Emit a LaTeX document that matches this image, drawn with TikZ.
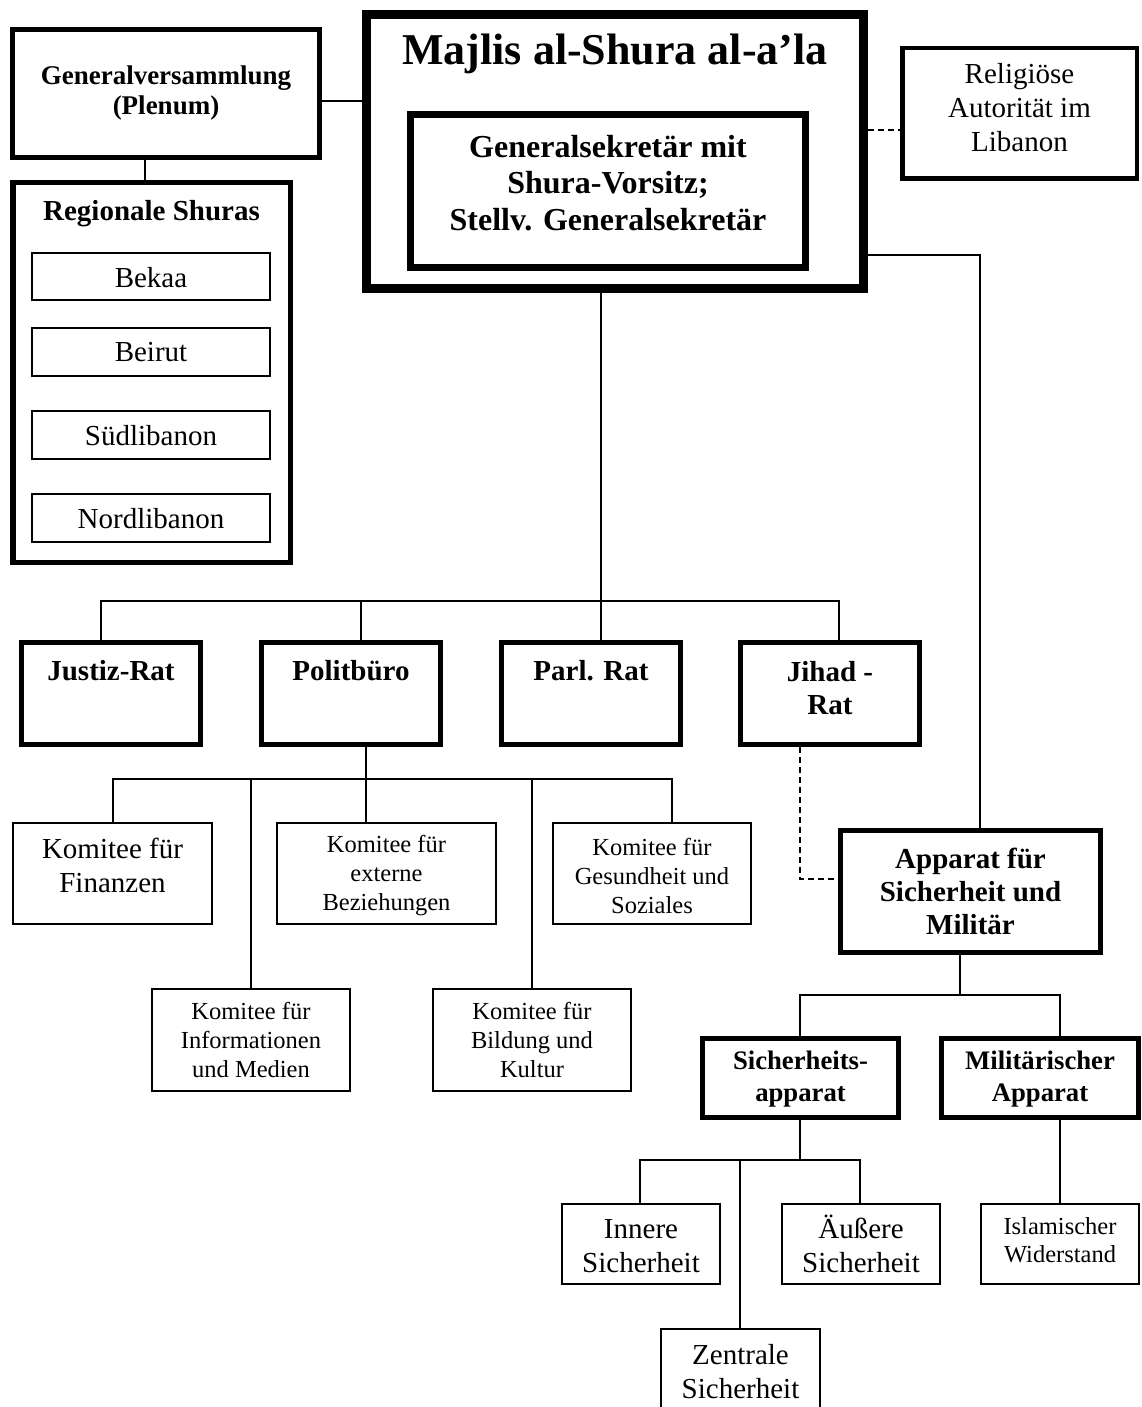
\documentclass[tikz,border=0pt]{standalone}
\usepackage{fontspec}
\setmainfont{Liberation Serif}
\newcommand\fsTitle{\fontsize{44}{50}\selectfont\bfseries}
\newcommand\fsGS{\fontsize{32}{36.5}\selectfont\bfseries}
\newcommand\fsGV{\fontsize{27}{30}\selectfont\bfseries}
\newcommand\fsB{\fontsize{29}{33}\selectfont\bfseries}
\newcommand\fsBs{\fontsize{26.7}{32}\selectfont\bfseries}
\newcommand\fsR{\fontsize{29}{34}\selectfont}
\newcommand\fsRs{\fontsize{24.5}{29}\selectfont}
\newcommand\fsRi{\fontsize{24.5}{28}\selectfont}
\begin{document}
\begin{tikzpicture}[x=1pt,y=-1pt,
  tk/.style={draw, line width=5pt, inner sep=0pt, align=center},
  tn/.style={draw, line width=1.6pt, inner sep=0pt, align=center},
  lbl/.style={anchor=center, inner sep=0pt, align=center},
  conn/.style={line width=1.6pt},
  dsh/.style={line width=1.6pt, dash pattern=on 6pt off 4pt}]
\useasboundingbox (0,0) rectangle (1141,1407);
% top row
\node[tk, minimum width=307, minimum height=128,
  label={[lbl, yshift=-66pt, font=\fsGV]north:Generalversammlung\\(Plenum)}] (gv) at (166,93.5) {};
\node[tk, line width=5.5pt, minimum width=277.5, minimum height=379.5,
  label={[lbl, yshift=-34pt, font=\fsB]north:Regionale Shuras}] (reg) at (151.5,372.5) {};
\node[tn, minimum width=238.4, minimum height=47.4,
  label={[lbl, yshift=-25.7pt, font=\fsR]north:Bekaa}] (bekaa) at (151,276.5) {};
\node[tn, minimum width=238.4, minimum height=48.4,
  label={[lbl, yshift=-25.2pt, font=\fsR]north:Beirut}] (beirut) at (151,352) {};
\node[tn, minimum width=238.4, minimum height=48.4,
  label={[lbl, yshift=-25.2pt, font=\fsR]north:Südlibanon}] (sued) at (151,435) {};
\node[tn, minimum width=238.4, minimum height=48.4,
  label={[lbl, yshift=-25.2pt, font=\fsR]north:Nordlibanon}] (nord) at (151,518) {};
\node[tk, line width=9pt, minimum width=497, minimum height=274,
  label={[lbl, yshift=-44pt, font=\fsTitle]north:Majlis al-Shura al-a’la}] (majlis) at (615,151.5) {};
\node[tk, line width=7pt, minimum width=395, minimum height=153,
  label={[lbl, yshift=-72pt, font=\fsGS]north:Generalsekretär mit\\Shura-Vorsitz;\\Stellv. Generalsekretär}] (gs) at (608,191) {};
\node[tk, line width=4.5pt, minimum width=234.5, minimum height=130.5,
  label={[lbl, yshift=-62pt, font=\fsR]north:Religiöse\\Autorität im\\Libanon}] (rel) at (1019.5,113.5) {};
% councils
\node[tk, minimum width=179, minimum height=102,
  label={[lbl, yshift=-30.5pt, font=\fsB]north:Justiz-Rat}] (justiz) at (111,693.5) {};
\node[tk, minimum width=179, minimum height=102,
  label={[lbl, yshift=-30.5pt, font=\fsB]north:Politbüro}] (polit) at (351,693.5) {};
\node[tk, minimum width=179, minimum height=102,
  label={[lbl, yshift=-30.5pt, font=\fsB]north:Parl. Rat}] (parl) at (591,693.5) {};
\node[tk, minimum width=179, minimum height=102,
  label={[lbl, yshift=-48pt, font=\fsB]north:Jihad -\\Rat}] (jihad) at (830,693.5) {};
% committees
\node[tn, minimum width=199.4, minimum height=101.4,
  label={[lbl, yshift=-43pt, font=\fsR]north:Komitee für\\Finanzen}] (fin) at (112.5,873.5) {};
\node[tn, minimum width=219.4, minimum height=101.4,
  label={[lbl, yshift=-53.7pt, font=\fsRs]north:Komitee für\\externe\\Beziehungen}] (ext) at (386.5,873.5) {};
\node[tn, minimum width=198.4, minimum height=101.4,
  label={[lbl, yshift=-53.7pt, font=\fsRs]north:Komitee für\\Gesundheit und\\Soziales}] (ges) at (652,873.5) {};
\node[tn, minimum width=198.4, minimum height=102.4, font=\fsRs] (inf) at (251,1040) {Komitee für\\Informationen\\und Medien};
\node[tn, minimum width=198.4, minimum height=102.4, font=\fsRs] (bild) at (532,1040) {Komitee für\\Bildung und\\Kultur};
% security
\node[tk, minimum width=260, minimum height=122, font=\fsB] (app) at (970.5,891.5) {Apparat für\\Sicherheit und\\Militär};
\node[tk, minimum width=196, minimum height=79,
  label={[lbl, yshift=-43.5pt, font=\fsBs]north:Sicherheits-\\apparat}] (sich) at (800.5,1078) {};
\node[tk, minimum width=197, minimum height=79,
  label={[lbl, yshift=-43.5pt, font=\fsBs]north:Militärischer\\Apparat}] (mil) at (1040,1078) {};
\node[tn, minimum width=158.4, minimum height=80.4,
  label={[lbl, yshift=-43.2pt, font=\fsR]north:Innere\\Sicherheit}] (inn) at (641,1244) {};
\node[tn, minimum width=158.4, minimum height=80.4,
  label={[lbl, yshift=-41.2pt, font=\fsR]north:Äußere\\Sicherheit}] (aeu) at (861,1244) {};
\node[tn, minimum width=158.4, minimum height=80.4,
  label={[lbl, yshift=-37.5pt, font=\fsRi]north:Islamischer\\Widerstand}] (isl) at (1060,1244) {};
\node[tn, minimum width=159.4, minimum height=80.4,
  label={[lbl, yshift=-43.2pt, font=\fsR]north:Zentrale\\Sicherheit}] (zen) at (740.5,1369) {};
% helper coordinates
\coordinate (h1) at (145,101);
\coordinate (h2) at (980,255);
\coordinate (h3) at (0,130);
\coordinate (bA) at (601,601);
\coordinate (b1) at (101,601);
\coordinate (b2) at (361,601);
\coordinate (b4) at (839,601);
\coordinate (pA) at (366,779);
\coordinate (p1) at (113,779);
\coordinate (p2) at (251,779);
\coordinate (p4) at (532,779);
\coordinate (p5) at (672,779);
\coordinate (jd) at (800,879);
\coordinate (aA) at (960,995);
\coordinate (a1) at (800,995);
\coordinate (a2) at (1060,995);
\coordinate (sA) at (800,1160);
\coordinate (s1) at (640,1160);
\coordinate (s2) at (740,1160);
\coordinate (s3) at (860,1160);
% connectors
\draw[conn] (gv.east |- h1) -- (majlis.west |- h1);
\draw[conn] (gv.south -| h1) -- (reg.north -| h1);
\draw[dsh] (majlis.east |- h3) -- (rel.west |- h3);
\draw[conn] (majlis.east |- h2) -- (h2) -- (app.north -| h2);
\draw[conn] (majlis.south -| bA) -- (parl.north -| bA);
\draw[conn] (justiz.north -| b1) -- (b1) -- (b4) -- (jihad.north -| b4);
\draw[conn] (polit.north -| b2) -- (b2);
\draw[conn] (polit.south -| pA) -- (ext.north -| pA);
\draw[conn] (fin.north -| p1) -- (p1) -- (p5) -- (ges.north -| p5);
\draw[conn] (p2) -- (inf.north -| p2);
\draw[conn] (p4) -- (bild.north -| p4);
\draw[dsh] (jihad.south -| jd) -- (jd) -- (app.west |- jd);
\draw[conn] (app.south -| aA) -- (aA);
\draw[conn] (sich.north -| a1) -- (a1) -- (a2) -- (mil.north -| a2);
\draw[conn] (sich.south -| sA) -- (sA);
\draw[conn] (inn.north -| s1) -- (s1) -- (s3) -- (aeu.north -| s3);
\draw[conn] (s2) -- (zen.north -| s2);
\draw[conn] (mil.south -| a2) -- (isl.north -| a2);
\end{tikzpicture}
\end{document}
